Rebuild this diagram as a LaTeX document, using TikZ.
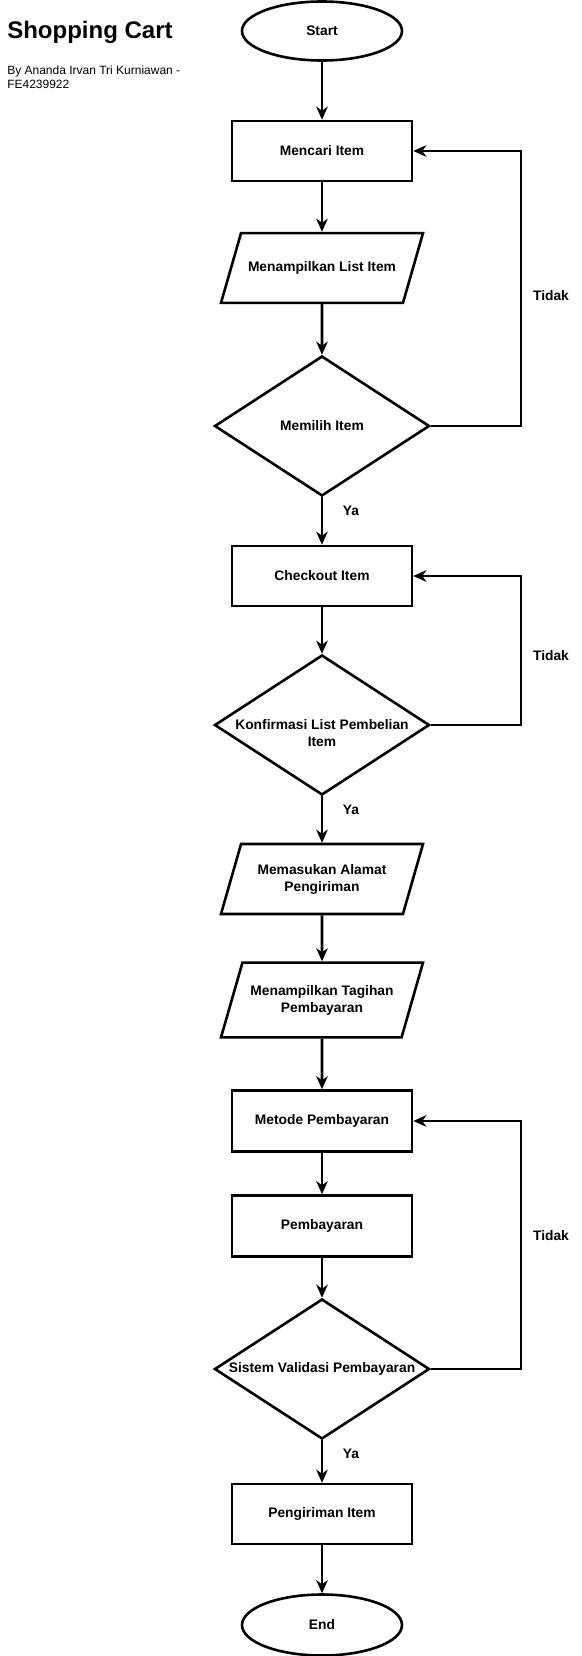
\documentclass[tikz,border=0pt]{standalone}
\usepackage{fontspec}
\setmainfont{Liberation Sans}
\usetikzlibrary{shapes.geometric}
\usetikzlibrary{arrows.meta}

\begin{document}
\begin{tikzpicture}[x=1pt,y=-1pt,line width=2.6pt,
    every node/.style={font=\bfseries\fontsize{13.8}{17}\selectfont,inner sep=0pt,align=center},
    terminal/.style={ellipse,draw=black,minimum width=160pt,minimum height=59pt},
    process/.style={rectangle,draw=black,minimum width=180pt,minimum height=60pt},
    io/.style={trapezium,trapezium left angle=74,trapezium right angle=106,
        trapezium stretches body,draw=black,minimum width=202pt,inner ysep=#1},
    io/.default=28.5pt,
    decision/.style={diamond,draw=black,minimum width=215pt,minimum height=140pt},
    flow/.style={-{Stealth[length=13pt,width=11.5pt,inset=4pt]}}]

    \useasboundingbox (0,0) rectangle (581,1656);

    % Place the title
    \node[font=\bfseries\fontsize{24}{29}\selectfont,anchor=base west] (title) at (6,39) {Shopping Cart};
    \node[font=\fontsize{12}{14}\selectfont,anchor=north west,align=left] (author) at (6,64.5)
        {By Ananda Irvan Tri Kurniawan -\\FE4239922};

    % Place the nodes of the flow
    \node[terminal] (start) at (322,31) {Start};
    \node[process] (mencari) at (322,151) {Mencari Item};
    \node[io] (listitem) at (322,268) {Menampilkan List Item};
    \node[decision,label={center:Memilih Item}] (memilih) at (322,426) {};
    \node[process] (checkout) at (322,576) {Checkout Item};
    \node[decision,label={[yshift=-8pt]center:{Konfirmasi List Pembelian\\Item}}] (konfirmasi) at (322,725) {};
    \node[io=20pt] (alamat) at (322,879) {Memasukan Alamat\\Pengiriman};
    \node[io=22.5pt] (tagihan) at (322,1000) {Menampilkan Tagihan\\Pembayaran};
    \node[process,minimum height=61pt] (metode) at (322,1121) {Metode Pembayaran};
    \node[process,minimum height=61pt] (bayar) at (322,1226) {Pembayaran};
    \node[decision,label={center:Sistem Validasi Pembayaran}] (validasi) at (322,1369) {};
    \node[process] (kirim) at (322,1514) {Pengiriman Item};
    \node[terminal,minimum height=61pt] (finish) at (322,1625) {End};

    % Place the answers
    \node (ya1) at (351,511) {Ya};
    \node (ya2) at (351,810) {Ya};
    \node (ya3) at (351,1454) {Ya};
    \node (tidak1) at (551,296) {Tidak};
    \node (tidak2) at (551,656) {Tidak};
    \node (tidak3) at (551,1236) {Tidak};
    \coordinate (rail) at (521,0);

    % Draw the main flow
    \draw[flow] (start) -- (mencari);
    \draw[flow] (mencari) -- (listitem);
    \draw[flow] (listitem) -- (memilih);
    \draw[flow] (memilih) -- (checkout);
    \draw[flow] (checkout) -- (konfirmasi);
    \draw[flow] (konfirmasi) -- (alamat);
    \draw[flow] (alamat) -- (tagihan);
    \draw[flow] (tagihan) -- (metode);
    \draw[flow] (metode) -- (bayar);
    \draw[flow] (bayar) -- (validasi);
    \draw[flow] (validasi) -- (kirim);
    \draw[flow] (kirim) -- (finish);

    % Draw the loops back
    \draw[flow] (memilih.east) -- (memilih.east -| rail) |- (mencari.east);
    \draw[flow] (konfirmasi.east) -- (konfirmasi.east -| rail) |- (checkout.east);
    \draw[flow] (validasi.east) -- (validasi.east -| rail) |- (metode.east);

\end{tikzpicture}
\end{document}
